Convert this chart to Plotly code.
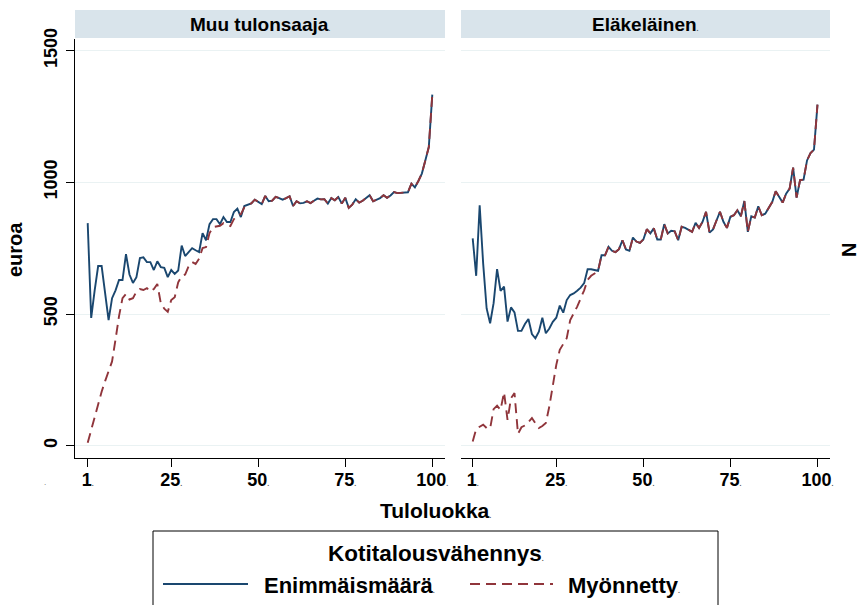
import plotly.graph_objects as go

W, H = 861, 605

tuloluokka = list(range(1, 101))

muu_enimmais = [845, 485, 590, 682, 682, 570, 477, 560, 590, 629,
                629, 727, 650, 618, 640, 712, 715, 697, 697, 667,
                700, 678, 675, 640, 667, 652, 665, 760, 720, 735,
                750, 742, 735, 807, 780, 841, 860, 860, 841, 868,
                849, 849, 887, 900, 868, 910, 915, 920, 934, 925,
                917, 948, 928, 930, 945, 940, 934, 940, 947, 910,
                928, 920, 922, 928, 921, 930, 938, 935, 936, 919,
                940, 932, 944, 919, 941, 903, 915, 936, 923, 930,
                940, 951, 928, 935, 940, 951, 941, 950, 963, 959,
                960, 960, 962, 995, 981, 1005, 1033, 1083, 1134, 1333]

muu_myonnetty = [11, 60, 110, 155, 205, 245, 280, 320, 404, 492,
                 560, 576, 555, 560, 585, 595, 591, 598, 585, 595,
                 614, 541, 520, 508, 553, 564, 620, 644, 650, 682,
                 697, 690, 710, 750, 754, 807, 830, 832, 835, 845,
                 840, 834, 860, 875, 879, 905, 915, 920, 934, 925,
                 917, 948, 928, 930, 945, 940, 934, 940, 947, 910,
                 928, 920, 922, 928, 921, 930, 938, 935, 936, 919,
                 940, 932, 944, 919, 941, 903, 915, 936, 923, 930,
                 940, 951, 928, 935, 940, 951, 941, 950, 963, 959,
                 960, 960, 962, 995, 981, 1005, 1033, 1083, 1134, 1333]

elake_enimmais = [787, 645, 913, 692, 521, 465, 541, 670, 588, 604,
                  471, 525, 506, 436, 436, 462, 481, 424, 408, 433,
                  486, 427, 445, 470, 486, 532, 505, 553, 572, 578,
                  588, 600, 617, 670, 670, 668, 664, 723, 723, 755,
                  740, 735, 746, 780, 745, 740, 790, 775, 770, 783,
                  822, 806, 825, 783, 783, 841, 806, 816, 814, 780,
                  831, 827, 820, 812, 846, 827, 850, 888, 809, 821,
                  855, 888, 850, 827, 869, 875, 894, 871, 929, 812,
                  871, 866, 909, 875, 881, 905, 925, 966, 944, 923,
                  957, 976, 1056, 942, 1008, 1010, 1083, 1111, 1124, 1295]

elake_myonnetty = [16, 63, 72, 80, 67, 65, 139, 152, 136, 203,
                   98, 180, 200, 45, 70, 77, 90, 105, 85, 67,
                   75, 86, 149, 225, 307, 364, 385, 408, 477, 500,
                   528, 559, 590, 630, 645, 654, 664, 723, 723, 755,
                   740, 735, 746, 780, 745, 740, 790, 775, 770, 783,
                   822, 806, 825, 783, 783, 841, 806, 816, 814, 780,
                   831, 827, 820, 812, 846, 827, 850, 888, 809, 821,
                   855, 888, 850, 827, 869, 875, 894, 871, 929, 812,
                   871, 866, 909, 875, 881, 905, 925, 966, 944, 923,
                   957, 976, 1056, 942, 1008, 1010, 1083, 1111, 1124, 1295]

x_ticks = [1, 25, 50, 75, 100]
y_ticks = [0, 500, 1000, 1500]
panel_titles = ["Muu tulonsaaja", "Eläkeläinen"]
series_names = ["Enimmäismäärä", "Myönnetty"]
legend_title = "Kotitalousvähennys"

NAVY = "#1a476f"
MAROON = "#90353b"
GRID = "#eaf2f3"
STRIP = "#d9e4eb"
FONT = "Liberation Sans"
DOT = '<span style="font-size:7px;color:#555">.</span>'


def px(x):
    return x / W


def py(y):
    return 1 - y / H


fig = go.Figure()

panels = [(muu_enimmais, muu_myonnetty, "x", "y"),
          (elake_enimmais, elake_myonnetty, "x2", "y2")]
for enim, myon, xa, ya in panels:
    fig.add_trace(go.Scatter(x=tuloluokka, y=enim, mode="lines", name=series_names[0],
                             line=dict(color=NAVY, width=1.9), xaxis=xa, yaxis=ya,
                             showlegend=False))
    fig.add_trace(go.Scatter(x=tuloluokka, y=myon, mode="lines", name=series_names[1],
                             line=dict(color=MAROON, width=1.9, dash="10px,6px"),
                             xaxis=xa, yaxis=ya, showlegend=False))

tickfont = dict(family=FONT, size=18, color="black", weight="bold")
xcommon = dict(tickvals=x_ticks, ticktext=[f"{t}{DOT}" for t in x_ticks],
               ticks="outside", ticklen=8, tickwidth=1, tickcolor="black",
               showline=True, linecolor="black", linewidth=1,
               showgrid=False, zeroline=False, tickfont=tickfont,
               ticklabelstandoff=-3, automargin=False)
ycommon = dict(range=[-46.7, 1544], tickvals=y_ticks, showgrid=True,
               gridcolor=GRID, gridwidth=1, zeroline=False, automargin=False)

fig.update_layout(
    width=W, height=H,
    margin=dict(l=0, r=0, t=0, b=0),
    paper_bgcolor="white", plot_bgcolor="white",
    xaxis=dict(domain=[px(75), px(445)], range=[-2.65, 103.65], anchor="y", **xcommon),
    xaxis2=dict(domain=[px(461), px(829.5)], range=[-2.36, 103.45], anchor="y2", **xcommon),
    yaxis=dict(domain=[py(458), py(39)], anchor="x", ticks="outside", ticklen=8,
               tickwidth=1, tickcolor="black", showline=True, linecolor="black",
               linewidth=1, tickangle=-90, tickfont=tickfont,
               ticklabelstandoff=2, **ycommon),
    yaxis2=dict(domain=[py(458), py(39)], anchor="x2", showticklabels=False,
                ticks="", showline=False, **ycommon),
    showlegend=False,
)

shapes = []
# panel title strips
for x0, x1 in [(75, 445), (461, 830)]:
    shapes.append(dict(type="rect", xref="paper", yref="paper",
                       x0=px(x0), x1=px(x1), y0=py(38), y1=py(10),
                       fillcolor=STRIP, line=dict(width=0), layer="below"))
# legend box
shapes.append(dict(type="rect", xref="paper", yref="paper",
                   x0=px(153), x1=px(718), y0=py(612), y1=py(531),
                   fillcolor="rgba(0,0,0,0)", line=dict(color="black", width=1)))
# legend line samples
shapes.append(dict(type="line", xref="paper", yref="paper",
                   x0=px(163), x1=px(248), y0=py(584), y1=py(584),
                   line=dict(color=NAVY, width=1.9)))
shapes.append(dict(type="line", xref="paper", yref="paper",
                   x0=px(470), x1=px(553), y0=py(584), y1=py(584),
                   line=dict(color=MAROON, width=1.9, dash="10px,6px")))
fig.update_layout(shapes=shapes)

ann = []


def add_text(text, x, y, size, xanchor="center", angle=0):
    ann.append(dict(text=text, x=px(x), y=py(y), xref="paper", yref="paper",
                    xanchor=xanchor, yanchor="middle", showarrow=False,
                    textangle=angle,
                    font=dict(family=FONT, size=size, color="black", weight="bold")))


add_text(panel_titles[0] + DOT, 260, 24, 19)
add_text(panel_titles[1] + DOT, 645, 24, 19)
add_text("euroa", 15, 250, 20, angle=-90)
add_text("Tuloluokka" + DOT, 436, 510, 21)
add_text("N", 849, 250, 20, angle=-90)
add_text(legend_title + DOT, 436, 553, 22.5)
add_text(series_names[0] + DOT, 262, 585, 22, xanchor="left")
add_text(series_names[1] + DOT, 566, 585, 22, xanchor="left")
ann.append(dict(text=".", x=px(42), y=py(489), xref="paper", yref="paper",
                showarrow=False, font=dict(family=FONT, size=8, color="#666")))
fig.update_layout(annotations=ann)

fig.write_html("out.html", config={"displayModeBar": False},
               post_script="document.body.style.margin='0';document.body.style.padding='0';")
